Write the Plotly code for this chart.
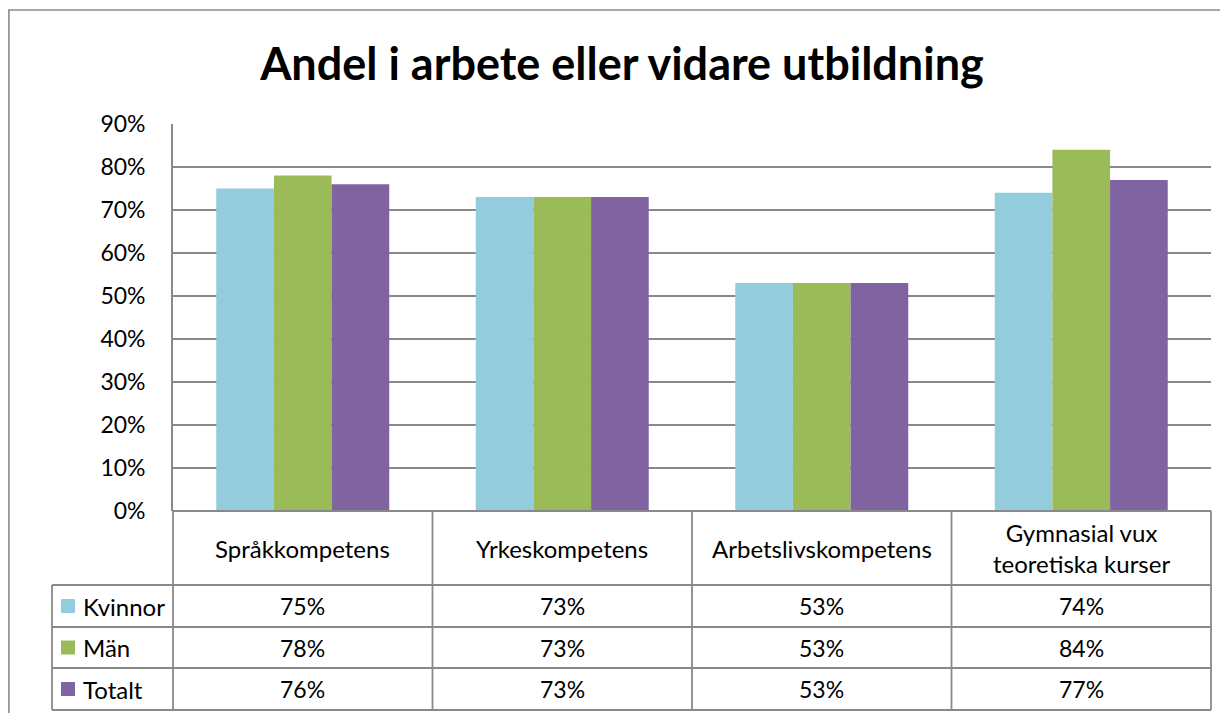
import plotly.graph_objects as go

W, H = 1228, 713

categories = ["Språkkompetens", "Yrkeskompetens", "Arbetslivskompetens", "Gymnasial vux teoretiska kurser"]
category_labels = ["Språkkompetens", "Yrkeskompetens", "Arbetslivskompetens", "Gymnasial vux<br>teoretiska kurser"]
series_names = ["Kvinnor", "Män", "Totalt"]
kvinnor = [75, 73, 53, 74]
man = [78, 73, 53, 84]
totalt = [76, 73, 53, 77]
series_values = [kvinnor, man, totalt]
colors = ["#93CDDD", "#9BBB59", "#8064A2"]
tick_vals = [0, 10, 20, 30, 40, 50, 60, 70, 80, 90]
tick_text = [f"{v}%" for v in tick_vals]

FONT = "Lato"
GRID = "#898989"
OFF = 8  # page body margin offset


def px(x):
    return (x - OFF) / W


def py(y):
    return 1 - (y - OFF) / H


PL, PR, PT, PB = 173, 1211, 124, 511
TL = 52
row_lines = [585, 627, 668, 710]

fig = go.Figure()
for name, vals, col in zip(series_names, series_values, colors):
    fig.add_trace(go.Bar(
        x=categories, y=vals, name=name,
        marker=dict(color=col, line=dict(width=0)),
        hoverinfo="x+y+name",
    ))

shapes = []
line = dict(color=GRID, width=1.8)
# outer chart border
shapes.append(dict(type="rect", xref="paper", yref="paper",
                   x0=px(OFF + 0.9), x1=px(1260), y0=py(760), y1=py(10),
                   line=dict(color="#8c8c8c", width=1.6)))
# table horizontal lines
shapes.append(dict(type="line", xref="paper", yref="paper", x0=px(PL), x1=px(PR),
                   y0=py(PB), y1=py(PB), line=line))
for yy in row_lines:
    shapes.append(dict(type="line", xref="paper", yref="paper", x0=px(TL), x1=px(PR),
                       y0=py(yy), y1=py(yy), line=line))
# legend column left line
shapes.append(dict(type="line", xref="paper", yref="paper", x0=px(TL), x1=px(TL),
                   y0=py(row_lines[0]), y1=py(row_lines[-1]), line=line))
# vertical column boundaries
n = len(categories)
for i in range(n + 1):
    xx = PL + (PR - PL) * i / n
    shapes.append(dict(type="line", xref="paper", yref="paper", x0=px(xx), x1=px(xx),
                       y0=py(PB), y1=py(row_lines[-1]), line=line))

annotations = []
# header row
header_c = (PB + row_lines[0]) / 2
for cat, lab in zip(categories, category_labels):
    annotations.append(dict(x=cat, xref="x", y=py(header_c), yref="paper",
                            text=lab, showarrow=False, xanchor="center", yanchor="middle",
                            font=dict(family=FONT, size=24, color="#000000")))
# data rows
tops = [row_lines[0], row_lines[1], row_lines[2]]
bots = [row_lines[1], row_lines[2], row_lines[3]]
for name, vals, col, t, b in zip(series_names, series_values, colors, tops, bots):
    c = (t + b) / 2
    shapes.append(dict(type="rect", xref="paper", yref="paper",
                       x0=px(61), x1=px(75), y0=py(c + 7), y1=py(c - 7),
                       fillcolor=col, line=dict(width=0)))
    annotations.append(dict(x=px(81), xref="paper", y=py(c), yref="paper",
                            text=name, showarrow=False, xanchor="left", yanchor="middle",
                            font=dict(family=FONT, size=24, color="#000000")))
    for cat, v in zip(categories, vals):
        annotations.append(dict(x=cat, xref="x", y=py(c), yref="paper",
                                text=f"{v}%", showarrow=False, xanchor="center", yanchor="middle",
                                font=dict(family=FONT, size=23, color="#000000")))

fig.update_layout(
    template="none",
    width=W, height=H, autosize=False,
    margin=dict(l=0, r=0, t=0, b=0, pad=0, autoexpand=False),
    paper_bgcolor="white", plot_bgcolor="white",
    barmode="group", bargap=1 / 3, bargroupgap=0,
    showlegend=False,
    title=dict(text="<b>Andel i arbete eller vidare utbildning</b>",
               x=px(622), xanchor="center", xref="paper", y=py(64), yref="paper", yanchor="middle",
               font=dict(family=FONT, size=45, color="#000000")),
    xaxis=dict(domain=[px(PL), px(PR)], showticklabels=False, showgrid=False,
               zeroline=False, showline=False, ticks="", automargin=False),
    yaxis=dict(domain=[py(PB), py(PT)], range=[0, 90], tickvals=tick_vals,
               ticktext=tick_text, showgrid=True, gridcolor=GRID, gridwidth=1.8,
               zeroline=False, showline=True, linecolor=GRID, linewidth=1.8,
               ticks="", ticklabelstandoff=21, automargin=False,
               tickfont=dict(family=FONT, size=23, color="#000000")),
    shapes=shapes, annotations=annotations,
)

fig.write_html("out.html")
